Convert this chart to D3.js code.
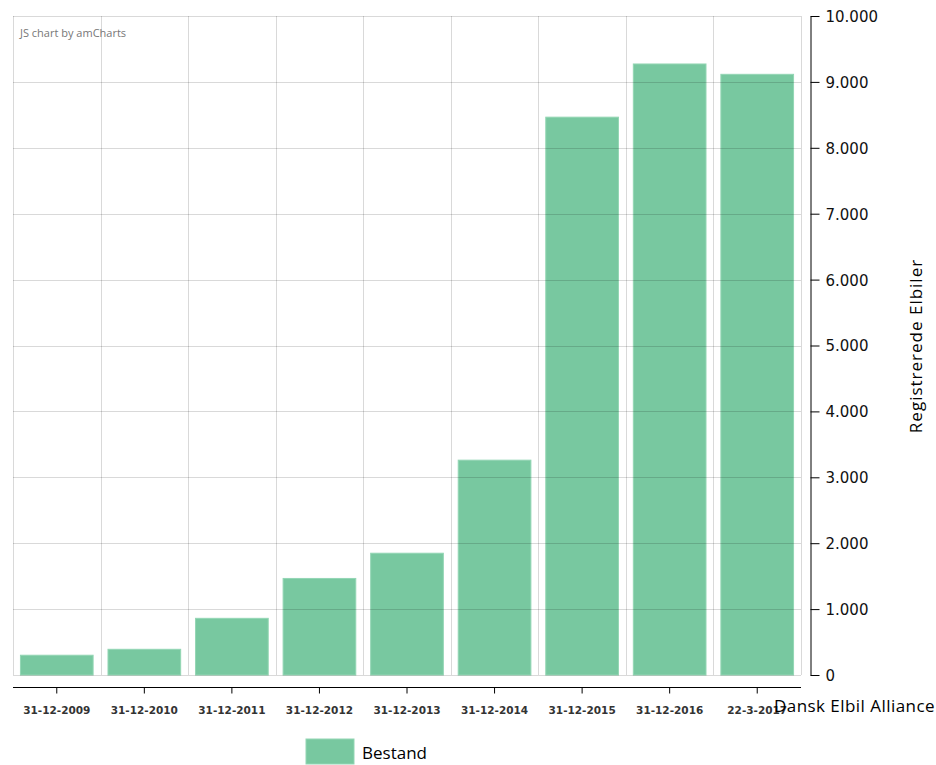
<!DOCTYPE html>
<html>
<head>
<meta charset="utf-8">
<script src="https://cdn.jsdelivr.net/npm/d3@7"></script>
<style>
html,body{margin:0;padding:0;background:#fff;}
svg{display:block;}
</style>
</head>
<body>
<svg id="chart" width="936" height="765"></svg>
<script>
const categories = ["31-12-2009","31-12-2010","31-12-2011","31-12-2012","31-12-2013","31-12-2014","31-12-2015","31-12-2016","22-3-2017"];
const bestand = [300, 390, 860, 1465, 1848, 3260, 8465, 9272, 9115];
const yTicks = [0,1000,2000,3000,4000,5000,6000,7000,8000,9000,10000];
const seriesName = "Bestand";
const yTitle = "Registrerede Elbiler";
const sourceText = "Dansk Elbil Alliance";
const creditText = "JS chart by amCharts";

const svg = d3.select("#chart");
const L = 13, R = 801, T = 16, B = 675;
const barColor = "#78c8a0";

const x = d3.scaleBand().domain(categories).range([L, R]).paddingInner(0.17).paddingOuter(0.085);
const xg = d3.scaleBand().domain(categories).range([L, R]).padding(0);
const y = d3.scaleLinear().domain([0, 10000]).range([B, T]);

// bars
svg.append("g").selectAll("rect").data(bestand).join("rect")
  .attr("x", (d,i) => x(categories[i]))
  .attr("width", x.bandwidth())
  .attr("y", d => y(d))
  .attr("height", d => B - y(d))
  .attr("fill", barColor)
  .attr("stroke", "#93d6b4")
  .attr("stroke-width", 1);

// grid
const grid = svg.append("g").attr("stroke", "#000").attr("stroke-opacity", 0.15).attr("stroke-width", 1);
grid.selectAll("line.v").data(categories).join("line").attr("class","v")
  .attr("x1", d => Math.round(xg(d)) + 0.5).attr("x2", d => Math.round(xg(d)) + 0.5)
  .attr("y1", T).attr("y2", B);
grid.append("line").attr("x1", R + 0.5).attr("x2", R + 0.5).attr("y1", T).attr("y2", B);
grid.selectAll("line.h").data(yTicks).join("line").attr("class","h")
  .attr("x1", L).attr("x2", R)
  .attr("y1", d => Math.round(y(d)) + 0.5).attr("y2", d => Math.round(y(d)) + 0.5);

// right axis
const fmt = d => d3.format(",")(d).replace(/,/g, ".");
const yAxis = d3.axisRight(y).tickValues(yTicks).tickFormat(fmt).tickSize(9).tickSizeOuter(0).tickPadding(6);
const ya = svg.append("g").attr("transform", "translate(810.5,0)").call(yAxis);
ya.select(".domain").attr("stroke", "#000");
ya.selectAll(".tick line").attr("stroke", "#000");
ya.selectAll(".tick text").attr("font-family", "DejaVu Sans, Verdana, sans-serif").attr("font-size", 15).attr("fill", "#111").attr("dy", "0.36em");

// bottom axis
const xAxis = d3.axisBottom(x).tickSize(6).tickSizeOuter(0).tickPadding(13);
const xa = svg.append("g").attr("transform", "translate(0,687.5)").call(xAxis);
xa.select(".domain").attr("stroke", "#000").attr("d", `M${L},0H${R}`);
xa.selectAll(".tick line").attr("stroke", "#000");
xa.selectAll(".tick text").attr("font-family", "DejaVu Sans, Verdana, sans-serif").attr("font-size", 10.5).attr("font-weight", "bold").attr("fill", "#333");

// titles
svg.append("text").attr("transform", "translate(922,346) rotate(-90)")
  .attr("text-anchor", "middle").attr("font-family", "Open Sans, sans-serif").attr("font-size", 17).attr("letter-spacing", "1px").attr("fill", "#000").text(yTitle);
svg.append("text").attr("x", 935).attr("y", 712).attr("text-anchor", "end")
  .attr("font-family", "Open Sans, sans-serif").attr("font-size", 17).attr("letter-spacing", "0.45px").attr("fill", "#000").text(sourceText);
svg.append("text").attr("x", 20).attr("y", 37)
  .attr("font-family", "Open Sans, sans-serif").attr("font-size", 11).attr("fill", "#777").text(creditText);

// legend
const lg = svg.append("g").attr("transform", "translate(306,739)");
lg.append("rect").attr("width", 48).attr("height", 25).attr("fill", barColor).attr("stroke", "#93d6b4");
lg.append("text").attr("x", 56).attr("y", 20).attr("font-family", "Open Sans, sans-serif").attr("font-size", 17).attr("fill", "#000").text(seriesName);
</script>
</body>
</html>
